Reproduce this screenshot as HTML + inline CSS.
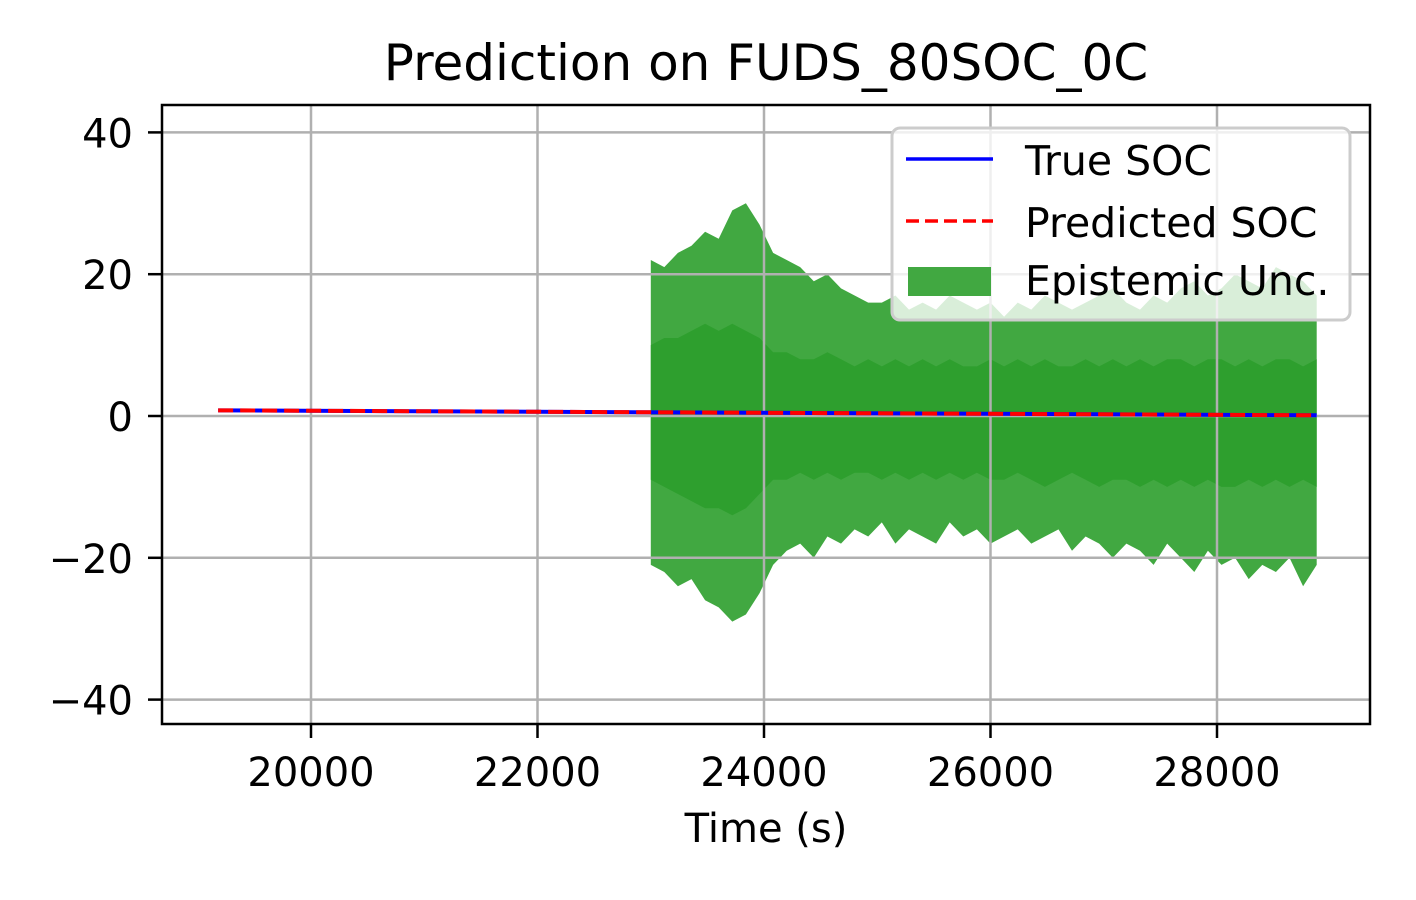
<!DOCTYPE html>
<html><head><meta charset="utf-8"><style>
html,body{margin:0;padding:0;background:#fff;}
svg{display:block;font-family:"DejaVu Sans","Liberation Sans",sans-serif;}
</style></head><body>
<svg id="chart" width="1416" height="900" viewBox="0 0 1416 900" xmlns="http://www.w3.org/2000/svg">
<rect width="1416" height="900" fill="#fff"/>
<text x="766" y="80" font-size="50" text-anchor="middle">Prediction on FUDS_80SOC_0C</text>
<g id="band"></g>
<g id="grid"></g>
<g id="lines"></g>
<rect x="162" y="105" width="1208" height="619" fill="none" stroke="#000" stroke-width="2.5"/>
<g id="ticks"></g>
<text x="766" y="842" font-size="40" text-anchor="middle">Time (s)</text>
<g>
<rect x="892" y="128" width="458" height="192" rx="8" fill="#fff" fill-opacity="0.8" stroke="#ccc" stroke-width="3"/>
<line x1="906" y1="159" x2="993" y2="159" stroke="#0000ff" stroke-width="3.5"/>
<text x="1025" y="175" font-size="41">True SOC</text>
<line x1="906" y1="221" x2="993" y2="221" stroke="#ff0000" stroke-width="3.5" stroke-dasharray="13,6"/>
<text x="1025" y="237" font-size="41">Predicted SOC</text>
<rect x="908" y="267" width="83" height="29" fill="#41a841"/>
<text x="1025" y="295" font-size="41">Epistemic Unc.</text>
</g>
</svg>
<script>
const bandTimes = [];
for (let i = 0; i < 50; i++) bandTimes.push(23000 + i * 120);
const outerUp = [22,21,23,24,26,25,29,30,27,23,22,21,19,20,18,17,16,16,17,15,16,15,17,16,15,16,14,16,15,17,16,15,16,17,18,16,15,17,16,18,19,17,18,20,19,18,21,20,19,17];
const outerLo = [-21,-22,-24,-23,-26,-27,-29,-28,-25,-21,-19,-18,-20,-17,-18,-16,-17,-15,-18,-16,-17,-18,-15,-17,-16,-18,-17,-16,-18,-17,-16,-19,-17,-18,-20,-18,-19,-21,-18,-20,-22,-19,-21,-20,-23,-21,-22,-20,-24,-21];
const innerUp = [10,11,11,12,13,12,13,12,11,9,9,8,8,9,8,7,8,7,8,7,8,7,8,7,7,8,7,8,7,8,7,7,8,7,8,7,8,7,8,8,7,8,8,7,8,7,8,8,7,8];
const innerLo = [-9,-10,-11,-12,-13,-13,-14,-13,-11,-9,-9,-8,-9,-8,-9,-8,-8,-9,-8,-9,-8,-9,-8,-9,-8,-9,-9,-8,-9,-10,-9,-8,-9,-10,-9,-9,-10,-9,-10,-9,-10,-9,-10,-10,-9,-10,-9,-10,-9,-10];
const socTimes = [19180, 28880];
const trueSoc = [0.8, 0.1];
const predSoc = [0.8, 0.1];
const xTicks = [20000, 22000, 24000, 26000, 28000];
const yTicks = [40, 20, 0, -20, -40];

const NS = "http://www.w3.org/2000/svg";
const X = t => 311 + (t - 20000) * 0.11325;
const Y = v => 416 - v * 7.09;
function mk(tag, attrs, parent) {
  const e = document.createElementNS(NS, tag);
  for (const k in attrs) e.setAttribute(k, attrs[k]);
  parent.appendChild(e);
  return e;
}
function bandPath(up, lo) {
  let d = "";
  bandTimes.forEach((t, i) => { d += (i ? "L" : "M") + X(t).toFixed(1) + "," + Y(up[i]).toFixed(1); });
  for (let i = bandTimes.length - 1; i >= 0; i--) d += "L" + X(bandTimes[i]).toFixed(1) + "," + Y(lo[i]).toFixed(1);
  return d + "Z";
}
const band = document.getElementById("band");
const outer = mk("path", {d: bandPath(outerUp, outerLo), fill: "#41a841"}, band);


const inner = mk("path", {d: bandPath(innerUp, innerLo), fill: "#2e9f2e"}, band);



const grid = document.getElementById("grid");
const ticks = document.getElementById("ticks");
xTicks.forEach(t => {
  const g = mk("line", {x1: X(t), x2: X(t), y1: 105, y2: 724, stroke: "#b0b0b0", "stroke-width": 2.5}, grid);
  
  
  const tk = mk("line", {x1: X(t), x2: X(t), y1: 724, y2: 738, stroke: "#000", "stroke-width": 2.5}, ticks);
  
  
  const lb = mk("text", {x: X(t), y: 786, "font-size": 40, "text-anchor": "middle"}, ticks);
  lb.textContent = String(t);
  
  
});
yTicks.forEach(v => {
  const g = mk("line", {x1: 162, x2: 1370, y1: Y(v), y2: Y(v), stroke: "#b0b0b0", "stroke-width": 2.5}, grid);
  
  
  const tk = mk("line", {x1: 148, x2: 162, y1: Y(v), y2: Y(v), stroke: "#000", "stroke-width": 2.5}, ticks);
  
  
  const lb = mk("text", {x: 133, y: Y(v) + 15, "font-size": 40, "text-anchor": "end"}, ticks);
  lb.textContent = v < 0 ? "\u2212" + Math.abs(v) : String(v);
  
  
});
const lines = document.getElementById("lines");
const pts = arr => socTimes.map((t, i) => X(t) + "," + Y(arr[i])).join(" ");
const tl = mk("polyline", {points: pts(trueSoc), fill: "none", stroke: "#0000ff", "stroke-width": 4}, lines);


const pl = mk("polyline", {points: pts(predSoc), fill: "none", stroke: "#ff0000", "stroke-width": 4, "stroke-dasharray": "15,7"}, lines);


</script>
</body></html>
